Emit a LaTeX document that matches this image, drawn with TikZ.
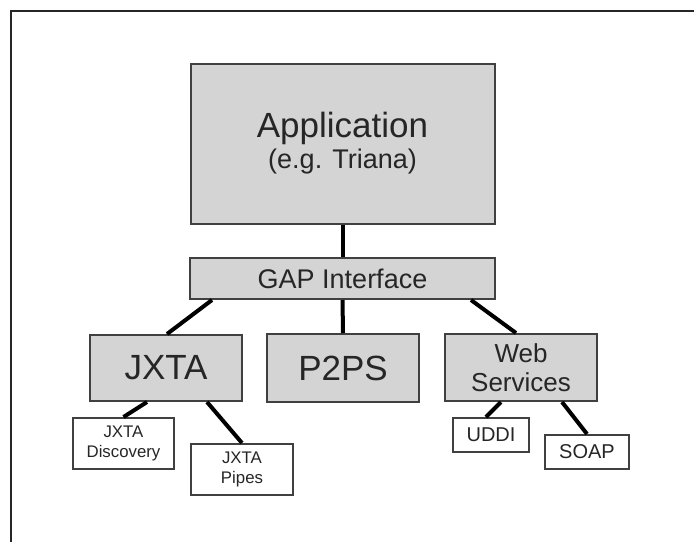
\documentclass[tikz,border=0pt]{standalone}
\usepackage{fontspec}
\setmainfont{Liberation Sans}
\usepackage{tikz}
\tikzset{
  px/.style={x=0.5pt, y=-0.5pt},
  frame/.style={black!85, line width=0.75pt},
  layer/.style={draw=black!75, line width=1pt, fill=black!17, inner sep=0pt,
    align=center, text=black!85},                       % grey layer boxes
  part/.style={draw=black!75, line width=1pt, fill=white, inner sep=0pt,
    align=center, text=black!85},                       % small white boxes
  link/.style={black, line width=2pt},
  bigfont/.style={font=\fontsize{17.5}{14}\selectfont},
  midfont/.style={font=\fontsize{13.5}{14}\selectfont},
  smallfont/.style={font=\fontsize{8.4}{10}\selectfont},
}

\begin{document}
\begin{tikzpicture}[px]
  \useasboundingbox (0,0) rectangle (694,542);
  \draw[frame] (11,542)--(11,11)--(694,11);
  % top of the stack
  \node[layer, bigfont, minimum width=152pt, minimum height=80pt] (app) at (342.5,143.5)
    {Application\\[1.5pt]{\fontsize{13.5}{14}\selectfont (e.g. Triana)}};
  \node[layer, midfont, minimum width=152.5pt, minimum height=20.5pt] (gap) at (342.5,278.5) {GAP Interface};
  % bindings
  \node[layer, bigfont, minimum width=76pt, minimum height=33pt] (jxta) at (166,368) {JXTA};
  \node[layer, bigfont, minimum width=76pt, minimum height=34pt] (p2ps) at (343,368) {P2PS};
  \node[layer, font=\fontsize{13}{14.5}\selectfont, minimum width=76pt, minimum height=33.5pt] (web) at (521,367.5) {Web\\Services};
  % sub-parts
  \node[part, smallfont, minimum width=50.5pt, minimum height=25.5pt] (disc) at (123.5,443.5) {JXTA\\Discovery};
  \node[part, smallfont, minimum width=51pt, minimum height=25.5pt] (pipes) at (242,469.5) {JXTA\\Pipes};
  \node[part, font=\fontsize{10}{12}\selectfont, minimum width=38pt, minimum height=17pt] (uddi) at (491,435) {UDDI};
  \node[part, font=\fontsize{10}{12}\selectfont, minimum width=42pt, minimum height=17pt] (soap) at (587,452) {SOAP};
  % connectors
  \draw[link] (app.south)--(gap.north);
  \draw[link] ([xshift=11.5pt]gap.south west)--([xshift=39pt]jxta.north west);
  \draw[link] (gap.south)--(p2ps.north);
  \draw[link] ([xshift=-12.5pt]gap.south east)--([xshift=36pt]web.north west);
  \draw[link] ([xshift=29pt]jxta.south west)--(disc.north);
  \draw[link] ([xshift=59pt]jxta.south west)--(pipes.north);
  \draw[link] ([xshift=28.5pt]web.south west)--([xshift=17pt]uddi.north west);
  \draw[link] ([xshift=59pt]web.south west)--(soap.north);
\end{tikzpicture}
\end{document}
